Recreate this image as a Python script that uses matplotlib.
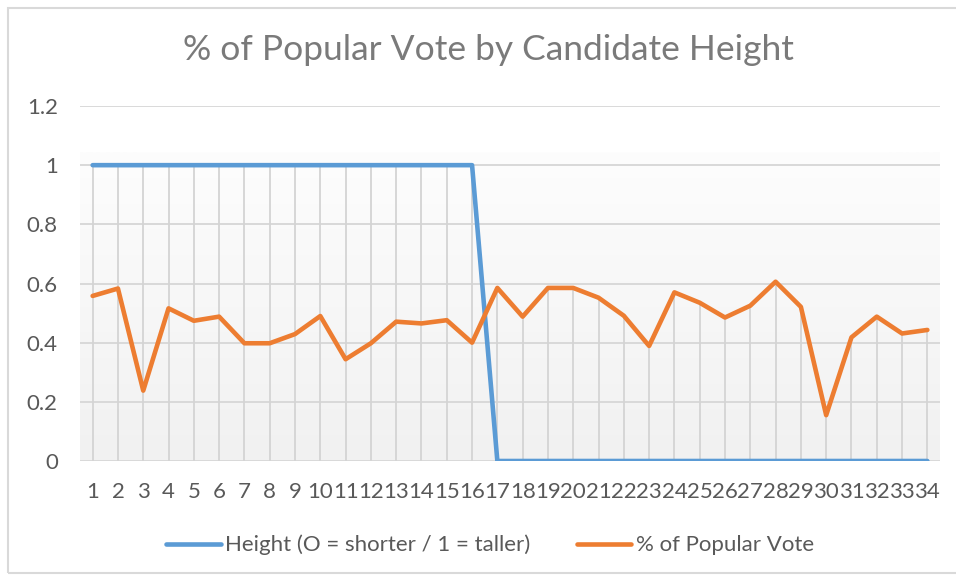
import numpy as np
import matplotlib
matplotlib.use("Agg")
import matplotlib.pyplot as plt
from matplotlib.patches import Rectangle

plt.rcParams['font.family'] = ['Lato', 'DejaVu Sans']

categories = list(range(1, 35))
height = [1] * 16 + [0] * 18
popular_vote = [0.558, 0.583, 0.238, 0.516, 0.474, 0.488, 0.398, 0.398, 0.429, 0.490,
                0.344, 0.398, 0.471, 0.465, 0.476, 0.400, 0.585, 0.488, 0.585, 0.585,
                0.552, 0.491, 0.389, 0.570, 0.535, 0.485, 0.525, 0.606, 0.521, 0.155,
                0.418, 0.488, 0.431, 0.443]
y_ticks = [0, 0.2, 0.4, 0.6, 0.8, 1.0, 1.2]
y_tick_labels = ['0', '0.2', '0.4', '0.6', '0.8', '1', '1.2']

W, H = 956, 581
fig = plt.figure(figsize=(W / 100, H / 100), dpi=100)

# chart border
fig.patches.append(Rectangle((8 / W, 8 / H), 1.2, 1 - 16 / H, transform=fig.transFigure,
                             fill=False, edgecolor='#d9d9d9', linewidth=1.5))

ax = fig.add_axes([80 / W, 1 - 461 / H, 860 / W, 355 / H])
ax.set_xlim(0.5, 34.5)
ax.set_ylim(0, 1.2)

# gradient fill
grad = np.linspace(0, 1, 256).reshape(-1, 1)
cmap = matplotlib.colors.LinearSegmentedColormap.from_list('g', ['#f1f1f1', '#fdfdfd'])
ax.imshow(grad, extent=[0.5, 34.5, 0, 1.044], origin='lower', aspect='auto', cmap=cmap, zorder=0)

for yt in y_ticks:
    ax.axhline(yt, color='#d9d9d9', linewidth=1.4, zorder=1)

# drop lines
for x, h, v in zip(categories, height, popular_vote):
    ax.vlines(x, 0, max(h, v), color='#d4d4d4', linewidth=1.3, zorder=1)

ax.plot(categories, height, color='#5B9BD5', linewidth=3.3, solid_capstyle='round',
        label='Height (O = shorter / 1 = taller)', zorder=3)
ax.plot(categories, popular_vote, color='#ED7D31', linewidth=3.3, solid_capstyle='round',
        label='% of Popular Vote', zorder=4)

for s in ax.spines.values():
    s.set_visible(False)
ax.set_yticks(y_ticks)
ax.set_yticklabels(y_tick_labels)
ax.set_xticks(categories)
ax.set_xticklabels([str(c) for c in categories])
ax.tick_params(axis='both', length=0, labelsize=16, labelcolor='#595959')
ax.tick_params(axis='y', pad=16)
ax.tick_params(axis='x', pad=15)

fig.text(488 / W, 1 - 50 / H, '% of Popular Vote by Candidate Height', ha='center', va='center',
         fontsize=25.5, color='#7a7a7a')

fig.legend(loc='center', bbox_to_anchor=(490 / W, 1 - 545 / H), ncol=2, frameon=False,
           fontsize=16, labelcolor='#595959', handlelength=2.45, handletextpad=0.2,
           columnspacing=2.1)

fig.savefig('out.png', dpi=100)
